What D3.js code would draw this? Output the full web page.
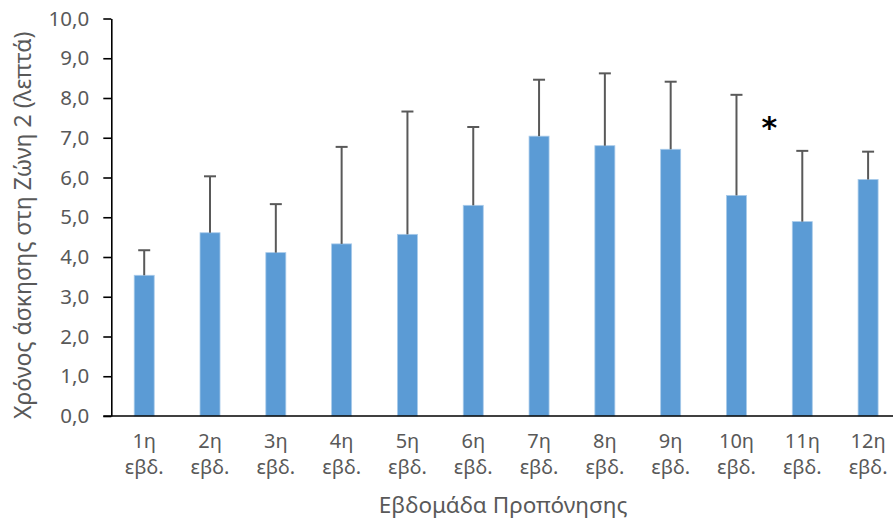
<!DOCTYPE html>
<html>
<head>
<meta charset="utf-8">
<script src="https://cdn.jsdelivr.net/npm/d3@7"></script>
<style>
  html, body { margin: 0; padding: 0; background: #ffffff; }
  svg { display: block; }
  text { font-family: "Noto Sans", "Open Sans", sans-serif; }
</style>
</head>
<body>
<svg id="chart" width="893" height="529"></svg>
<script>
// Weekly Zone 2 exercise time (minutes): mean and upper error (mean + SD)
const weeks = ["1η", "2η", "3η", "4η", "5η", "6η", "7η", "8η", "9η", "10η", "11η", "12η"];
const weekSuffix = "εβδ.";
const meanMinutes = [3.54, 4.61, 4.11, 4.33, 4.57, 5.30, 7.04, 6.80, 6.71, 5.55, 4.89, 5.95];
const upperMinutes = [4.17, 6.03, 5.33, 6.77, 7.66, 7.27, 8.46, 8.62, 8.41, 8.08, 6.67, 6.65];
const yTicks = [0, 1, 2, 3, 4, 5, 6, 7, 8, 9, 10];
const starBetween = ["10η", "11η"];   // significance mark placed between these weeks
const starLevel = 7.3;

const svg = d3.select("#chart");
const plotLeft = 111.3, plotRight = 901, plotTop = 18.5, plotBottom = 416;

const x = d3.scaleBand()
  .domain(weeks)
  .range([plotLeft, plotRight])
  .paddingInner(0.696)
  .paddingOuter(0.348);

const y = d3.scaleLinear().domain([0, 10]).range([plotBottom, plotTop]);

const fmt = v => d3.format(".1f")(v).replace(".", ",");

// bars
svg.append("g").selectAll("rect")
  .data(weeks)
  .join("rect")
  .attr("x", d => x(d))
  .attr("width", x.bandwidth())
  .attr("y", (d, i) => y(meanMinutes[i]))
  .attr("height", (d, i) => y(0) - y(meanMinutes[i]))
  .attr("fill", "#5B9BD5")
  .attr("stroke", "#A9CBEA")
  .attr("stroke-width", 0.8);

// error bars (upward only)
const err = svg.append("g").attr("stroke", "#595959").attr("stroke-width", 2);
weeks.forEach((w, i) => {
  const cx = x(w) + x.bandwidth() / 2;
  err.append("line")
    .attr("x1", cx).attr("x2", cx)
    .attr("y1", y(meanMinutes[i])).attr("y2", y(upperMinutes[i]));
  err.append("line")
    .attr("x1", cx - 6).attr("x2", cx + 6)
    .attr("y1", y(upperMinutes[i])).attr("y2", y(upperMinutes[i]));
});

// y axis
const yAxis = svg.append("g")
  .attr("transform", `translate(${plotLeft},0)`)
  .call(d3.axisLeft(y).tickValues(yTicks).tickFormat(fmt).tickSize(8).tickPadding(14).tickSizeOuter(0));
yAxis.select(".domain").attr("stroke", "#000").attr("stroke-width", 1.6);
yAxis.selectAll(".tick line").attr("stroke", "#000").attr("stroke-width", 1.6);
yAxis.selectAll(".tick text")
  .attr("fill", "#595959")
  .style("font-size", "20.5px")
  .style("font-family", "'Noto Sans', sans-serif");

// x axis
const xAxis = svg.append("g")
  .attr("transform", `translate(0,${plotBottom})`)
  .call(d3.axisBottom(x).tickSize(0).tickPadding(0).tickFormat(""));
xAxis.select(".domain")
  .attr("d", `M${plotLeft - 8},0H${plotRight}`)
  .attr("stroke", "#000").attr("stroke-width", 1.6);

xAxis.selectAll(".tick").each(function(d) {
  const t = d3.select(this).append("text")
    .attr("text-anchor", "middle")
    .attr("fill", "#595959")
    .style("font-size", "20px");
  t.append("tspan").attr("x", 0).attr("y", 32).text(d);
  t.append("tspan").attr("x", 0).attr("y", 58).text(weekSuffix);
});

// significance asterisk
svg.append("text")
  .attr("x", (x(starBetween[0]) + x.bandwidth() + x(starBetween[1])) / 2)
  .attr("y", y(starLevel) + 12)
  .attr("text-anchor", "middle")
  .attr("fill", "#000")
  .style("font-size", "30px")
  .style("font-weight", "bold")
  .style("font-family", "'DejaVu Sans', sans-serif")
  .text("*");

// axis titles
svg.append("text")
  .attr("x", (plotLeft + plotRight) / 2 - 3)
  .attr("y", 513)
  .attr("text-anchor", "middle")
  .attr("fill", "#595959")
  .style("font-size", "22.5px")
  .text("Εβδομάδα Προπόνησης");

svg.append("text")
  .attr("transform", `translate(31,${(plotTop + plotBottom) / 2 + 8}) rotate(-90)`)
  .attr("text-anchor", "middle")
  .attr("fill", "#595959")
  .style("font-size", "23px")
  .text("Χρόνος άσκησης στη Ζώνη 2 (λεπτά)");
</script>
</body>
</html>
